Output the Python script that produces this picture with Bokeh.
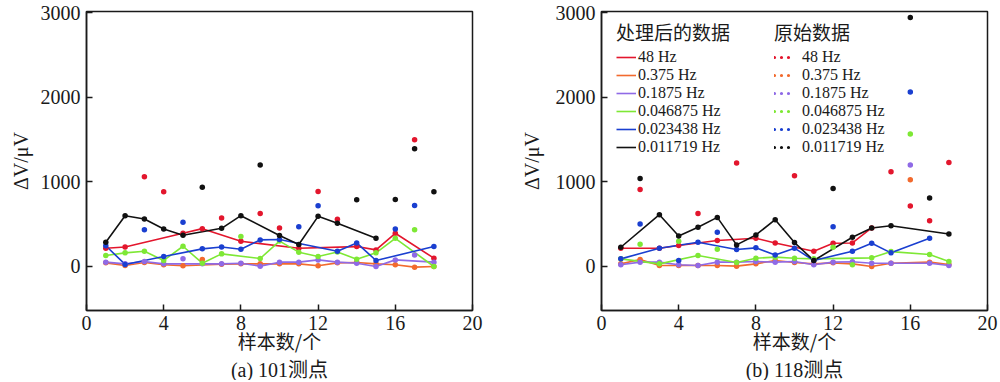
from bokeh.plotting import figure
from bokeh.models import FixedTicker, Legend, LegendItem, Range1d, Title
from bokeh.layouts import row
from bokeh.embed import file_html
from bokeh.resources import INLINE

samples = list(range(1, 19))
series_names = ["48 Hz", "0.375 Hz", "0.1875 Hz", "0.046875 Hz", "0.023438 Hz", "0.011719 Hz"]
colors = ["#e3162d", "#f26a2e", "#8f6ae6", "#7ee835", "#1a3fd0", "#111111"]

# ---- (a) 101 测点 : raw data ----
a_raw_48 = [216, 231, 1059, 882, 392, 447, 572, 298, 627, 455, 215, 886, 557, 235, 196, 392, 1498, 98]
a_raw_0375 = [43, 12, 47, 20, 8, 82, 27, 31, 31, 31, 31, 8, 43, 47, 31, 20, -8, 0]
a_raw_01875 = [51, 31, 59, 31, 90, 31, 31, 39, 4, 51, 51, 78, 51, 39, 0, 78, 137, 51]
a_raw_0046875 = [129, 161, 180, 71, 239, 39, 149, 353, 94, 300, 169, 118, 172, 86, 161, 333, 435, 0]
a_raw_0023438 = [245, 24, 435, 118, 521, 208, 231, 204, 314, 318, 470, 717, 180, 278, 71, 443, 721, 235]
a_raw_0011719 = [286, 600, 561, 443, 368, 937, 451, 600, 1200, 365, 259, 592, 510, 788, 333, 792, 1392, 882]
# ---- (a) processed data (None = removed) ----
a_pro_48 = [216, 231, None, None, 392, 447, None, 298, None, None, 215, None, None, 235, 196, 392, None, 98]
a_pro_0375 = [43, 12, 47, 20, 8, None, 27, 31, 31, 31, 31, 8, 43, 47, 31, 20, -8, 0]
a_pro_01875 = [51, 31, 59, 31, None, 31, 31, 39, 4, 51, 51, 78, 51, 39, 0, 78, None, 51]
a_pro_0046875 = [129, 161, 180, 71, 239, 39, 149, None, 94, 300, 169, 118, 172, 86, 161, 333, None, 0]
a_pro_0023438 = [245, 24, None, 118, None, 208, 231, 204, 314, 318, None, None, 180, 278, 71, None, None, 235]
a_pro_0011719 = [286, 600, 561, 443, 368, None, 451, 600, None, 365, 259, 592, 510, None, 333, None, None, None]

# ---- (b) 118 测点 : raw data ----
b_raw_48 = [216, 909, 216, 247, 627, 306, 1223, 333, 278, 1071, 180, 274, 278, 455, 1118, 714, 541, 1227]
b_raw_0375 = [31, 82, 12, 12, 12, 12, 4, 31, 71, 47, 31, 43, 31, 0, 39, 1024, 51, 23]
b_raw_01875 = [20, 51, 51, 20, 12, 51, 51, 59, 51, 59, 20, 51, 55, 39, 39, 1200, 39, 12]
b_raw_0046875 = [90, 263, 31, 298, 129, 204, 47, 98, 110, 98, 90, 227, 20, 102, 176, 1565, 141, 59]
b_raw_0023438 = [90, 502, 216, 71, 286, 404, 200, 220, 137, 216, 71, 470, 180, 274, 161, 2060, 333, None]
b_raw_0011719 = [227, 1039, 612, 361, 463, 580, 255, 372, 553, 282, 71, 921, 345, 455, 482, 2940, 808, 384]
# ---- (b) processed data ----
b_pro_48 = [216, None, 216, 247, None, 306, None, 333, 278, None, 180, 274, 278, 455, None, None, None, None]
b_pro_0375 = [31, 82, 12, 12, 12, 12, 4, 31, 71, 47, 31, 43, 31, 0, 39, None, 51, 23]
b_pro_01875 = [20, 51, 51, 20, 12, 51, 51, 59, 51, 59, 20, 51, 55, 39, 39, None, 39, 12]
b_pro_0046875 = [90, None, 31, None, 129, None, 47, 98, 110, 98, 90, None, None, 102, 176, None, 141, 59]
b_pro_0023438 = [90, None, 216, None, 286, None, 200, 220, 137, 216, 71, None, 180, 274, 161, None, 333, None]
b_pro_0011719 = [227, None, 612, 361, 463, 580, 255, 372, 553, 282, 71, None, 345, 455, 482, None, None, 384]

x_ticks = [0, 4, 8, 12, 16, 20]
y_ticks = [0, 1000, 2000, 3000]

a_raw = [a_raw_48, a_raw_0375, a_raw_01875, a_raw_0046875, a_raw_0023438, a_raw_0011719]
a_pro = [a_pro_48, a_pro_0375, a_pro_01875, a_pro_0046875, a_pro_0023438, a_pro_0011719]
b_raw = [b_raw_48, b_raw_0375, b_raw_01875, b_raw_0046875, b_raw_0023438, b_raw_0011719]
b_pro = [b_pro_48, b_pro_0375, b_pro_01875, b_pro_0046875, b_pro_0023438, b_pro_0011719]

SERIF = "Liberation Serif"
CJK = "Noto Sans CJK SC"
MIX = "Liberation Serif, Noto Sans CJK SC"
INK = "#1a1a1a"


def pairs(vals):
    xs = [x for x, v in zip(samples, vals) if v is not None]
    ys = [v for v in vals if v is not None]
    return xs, ys


def make_panel(raw, pro, width, bl, br, caption, ylabel_standoff, with_legend):
    p = figure(width=width, height=380, x_range=Range1d(0, 20), y_range=Range1d(-520, 3012),
               output_backend="svg", toolbar_location=None,
               min_border_left=bl, min_border_right=br, min_border_top=11, min_border_bottom=70,
               background_fill_color="white", border_fill_color="white")
    p.grid.visible = False
    p.outline_line_color = INK
    p.outline_line_width = 1.5

    line_rs = []
    for vals, c in zip(pro, colors):
        xs, ys = pairs(vals)
        line_rs.append(p.line(xs, ys, line_color=c, line_width=1.6))
    for vals, c in zip(raw, colors):
        xs, ys = pairs(vals)
        p.scatter(xs, ys, size=5.5, fill_color=c, line_color=None)

    for ax in (p.xaxis[0], p.yaxis[0]):
        ax.axis_line_color = INK
        ax.axis_line_width = 1.5
        ax.major_tick_line_color = INK
        ax.major_tick_line_width = 1.5
        ax.major_tick_in = 6
        ax.major_tick_out = 0
        ax.minor_tick_line_color = None
        ax.major_label_text_font = SERIF
        ax.major_label_text_font_size = "20px"
        ax.major_label_text_color = INK
        ax.axis_label_text_color = INK
        ax.axis_label_text_font_style = "normal"
    p.xaxis.ticker = FixedTicker(ticks=x_ticks)
    p.yaxis.ticker = FixedTicker(ticks=y_ticks)
    p.xaxis.major_label_standoff = 5
    p.yaxis.major_label_standoff = 6
    p.xaxis.axis_label = "样本数/个"
    p.xaxis.axis_label_text_font = CJK
    p.xaxis.axis_label_text_font_size = "19px"
    p.xaxis.axis_label_standoff = -6
    p.yaxis.axis_label = "ΔV/μV"
    p.yaxis.axis_label_text_font = SERIF
    p.yaxis.axis_label_text_font_size = "20px"
    p.yaxis.axis_label_standoff = ylabel_standoff

    p.add_layout(Title(text=caption, align="center", text_font=MIX, text_font_size="20px",
                       text_font_style="normal", text_color=INK, standoff=0), "below")

    if with_legend:
        common = dict(label_text_font=SERIF, label_text_font_size="16px", label_text_color=INK,
                      title_text_font=CJK, title_text_font_size="19px", title_text_font_style="normal",
                      title_text_color=INK, title_standoff=3, label_height=18, glyph_height=18,
                      glyph_width=20, spacing=0, padding=0, margin=0,
                      border_line_color=None, background_fill_alpha=0)
        items1 = [LegendItem(label=n, renderers=[r]) for n, r in zip(series_names, line_rs)]
        leg1 = Legend(items=items1, title="处理后的数据", location=(15, 154), label_standoff=2, **common)
        # legend-only dotted swatches (kept outside the visible x range)
        dots = [p.line([-3, -2], [0, 0], line_color=c, line_width=3.2, line_dash="0 7",
                       line_cap="round") for c in colors]
        items2 = [LegendItem(label=n, renderers=[r]) for n, r in zip(series_names, dots)]
        leg2 = Legend(items=items2, title="原始数据", location=(173, 154), label_standoff=8, **common)
        p.add_layout(leg1)
        p.add_layout(leg2)
    return p


pa = make_panel(a_raw, a_pro, 516, 86, 44, "(a) 101测点", 6, False)
pb = make_panel(b_raw, b_pro, 484, 85, 13, "(b) 118测点", 10, True)

layout = row(pa, pb)
open("out.html", "w").write(file_html(layout, INLINE))
